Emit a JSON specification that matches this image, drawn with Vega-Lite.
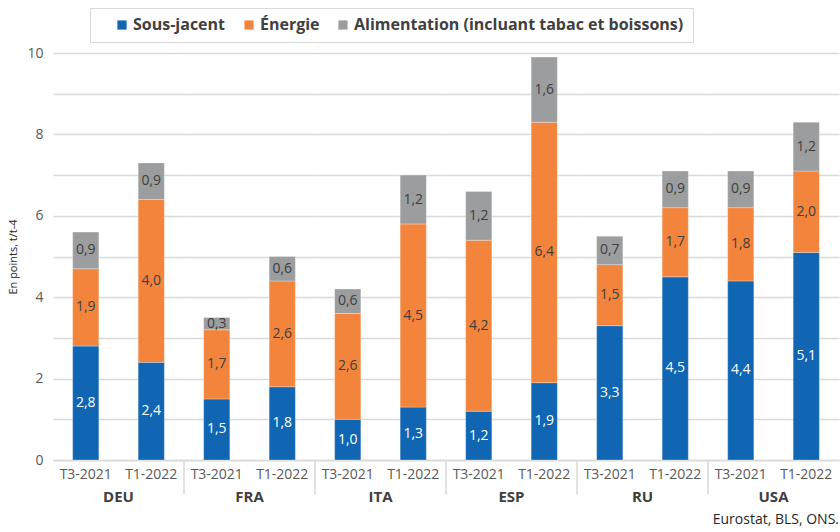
{
  "$schema": "https://vega.github.io/schema/vega-lite/v6.json",
  "background": "white",
  "padding": {"left": 7, "top": 7, "right": 2, "bottom": 2},
  "data": {
    "values": [
      {"country": "DEU", "period": "T3-2021", "component": "Sous-jacent", "k": 1, "value": 2.8},
      {"country": "DEU", "period": "T3-2021", "component": "Énergie", "k": 2, "value": 1.9},
      {"country": "DEU", "period": "T3-2021", "component": "Alimentation (incluant tabac et boissons)", "k": 3, "value": 0.9},
      {"country": "DEU", "period": "T1-2022", "component": "Sous-jacent", "k": 1, "value": 2.4},
      {"country": "DEU", "period": "T1-2022", "component": "Énergie", "k": 2, "value": 4.0},
      {"country": "DEU", "period": "T1-2022", "component": "Alimentation (incluant tabac et boissons)", "k": 3, "value": 0.9},
      {"country": "FRA", "period": "T3-2021", "component": "Sous-jacent", "k": 1, "value": 1.5},
      {"country": "FRA", "period": "T3-2021", "component": "Énergie", "k": 2, "value": 1.7},
      {"country": "FRA", "period": "T3-2021", "component": "Alimentation (incluant tabac et boissons)", "k": 3, "value": 0.3},
      {"country": "FRA", "period": "T1-2022", "component": "Sous-jacent", "k": 1, "value": 1.8},
      {"country": "FRA", "period": "T1-2022", "component": "Énergie", "k": 2, "value": 2.6},
      {"country": "FRA", "period": "T1-2022", "component": "Alimentation (incluant tabac et boissons)", "k": 3, "value": 0.6},
      {"country": "ITA", "period": "T3-2021", "component": "Sous-jacent", "k": 1, "value": 1.0},
      {"country": "ITA", "period": "T3-2021", "component": "Énergie", "k": 2, "value": 2.6},
      {"country": "ITA", "period": "T3-2021", "component": "Alimentation (incluant tabac et boissons)", "k": 3, "value": 0.6},
      {"country": "ITA", "period": "T1-2022", "component": "Sous-jacent", "k": 1, "value": 1.3},
      {"country": "ITA", "period": "T1-2022", "component": "Énergie", "k": 2, "value": 4.5},
      {"country": "ITA", "period": "T1-2022", "component": "Alimentation (incluant tabac et boissons)", "k": 3, "value": 1.2},
      {"country": "ESP", "period": "T3-2021", "component": "Sous-jacent", "k": 1, "value": 1.2},
      {"country": "ESP", "period": "T3-2021", "component": "Énergie", "k": 2, "value": 4.2},
      {"country": "ESP", "period": "T3-2021", "component": "Alimentation (incluant tabac et boissons)", "k": 3, "value": 1.2},
      {"country": "ESP", "period": "T1-2022", "component": "Sous-jacent", "k": 1, "value": 1.9},
      {"country": "ESP", "period": "T1-2022", "component": "Énergie", "k": 2, "value": 6.4},
      {"country": "ESP", "period": "T1-2022", "component": "Alimentation (incluant tabac et boissons)", "k": 3, "value": 1.6},
      {"country": "RU", "period": "T3-2021", "component": "Sous-jacent", "k": 1, "value": 3.3},
      {"country": "RU", "period": "T3-2021", "component": "Énergie", "k": 2, "value": 1.5},
      {"country": "RU", "period": "T3-2021", "component": "Alimentation (incluant tabac et boissons)", "k": 3, "value": 0.7},
      {"country": "RU", "period": "T1-2022", "component": "Sous-jacent", "k": 1, "value": 4.5},
      {"country": "RU", "period": "T1-2022", "component": "Énergie", "k": 2, "value": 1.7},
      {"country": "RU", "period": "T1-2022", "component": "Alimentation (incluant tabac et boissons)", "k": 3, "value": 0.9},
      {"country": "USA", "period": "T3-2021", "component": "Sous-jacent", "k": 1, "value": 4.4},
      {"country": "USA", "period": "T3-2021", "component": "Énergie", "k": 2, "value": 1.8},
      {"country": "USA", "period": "T3-2021", "component": "Alimentation (incluant tabac et boissons)", "k": 3, "value": 0.9},
      {"country": "USA", "period": "T1-2022", "component": "Sous-jacent", "k": 1, "value": 5.1},
      {"country": "USA", "period": "T1-2022", "component": "Énergie", "k": 2, "value": 2.0},
      {"country": "USA", "period": "T1-2022", "component": "Alimentation (incluant tabac et boissons)", "k": 3, "value": 1.2}
    ]
  },
  "title": {
    "text": "Eurostat, BLS, ONS.",
    "orient": "bottom",
    "anchor": "end",
    "font": "Open Sans",
    "fontSize": 14,
    "fontWeight": "normal",
    "color": "#262626",
    "offset": 8
  },
  "spacing": 0,
  "bounds": "flush",
  "facet": {
    "column": {
      "field": "country",
      "type": "nominal",
      "sort": ["DEU", "FRA", "ITA", "ESP", "RU", "USA"],
      "title": null,
      "header": {
        "labelOrient": "bottom",
        "labelFont": "Open Sans",
        "labelFontSize": 15,
        "labelFontWeight": "bold",
        "labelColor": "#404040",
        "labelPadding": 9
      }
    }
  },
  "spec": {
    "width": 131,
    "height": 407,
    "layer": [
      {
        "mark": {"type": "bar", "width": {"band": 0.4}, "stroke": "#ffffff", "strokeWidth": 0.6, "strokeOpacity": 0.5},
        "encoding": {
          "x": {
            "field": "period",
            "type": "nominal",
            "sort": ["T3-2021", "T1-2022"],
            "scale": {"paddingInner": 0, "paddingOuter": 0},
            "axis": {
              "title": null,
              "labelAngle": 0,
              "ticks": false,
              "domainColor": "#d9d9d9",
              "domainWidth": 1.5,
              "labelFont": "Open Sans",
              "labelFontSize": 14,
              "labelColor": "#595959",
              "labelPadding": 7
            }
          },
          "y": {
            "field": "value",
            "type": "quantitative",
            "stack": "zero",
            "scale": {"domain": [0, 10], "nice": false},
            "axis": {
              "title": "En points, t/t-4",
              "titleFont": "Open Sans",
              "titleFontSize": 11,
              "titleFontWeight": "normal",
              "titleColor": "#262626",
              "titlePadding": 8,
              "values": [0, 1, 2, 3, 4, 5, 6, 7, 8, 9, 10],
              "labelExpr": "datum.value % 2 === 0 ? datum.label : ''",
              "labelFont": "Open Sans",
              "labelFontSize": 14,
              "labelColor": "#595959",
              "labelPadding": 10,
              "domain": false,
              "ticks": false,
              "grid": true,
              "gridColor": "#d9d9d9",
              "gridWidth": 1.3
            }
          },
          "color": {
            "field": "component",
            "type": "nominal",
            "scale": {
              "domain": ["Sous-jacent", "Énergie", "Alimentation (incluant tabac et boissons)"],
              "range": ["#1066B2", "#F2843C", "#9B9D9E"]
            },
            "legend": {
              "orient": "none",
              "legendX": 37,
              "legendY": -45,
              "direction": "horizontal",
              "title": "\u00a0",
              "titleOrient": "left",
              "titleFontSize": 8,
              "titlePadding": 15,
              "symbolType": "square",
              "symbolSize": 85,
              "symbolStrokeWidth": 0,
              "labelFont": "Open Sans",
              "labelFontSize": 16,
              "labelFontWeight": "bold",
              "labelColor": "#404040",
              "labelLimit": 500,
              "labelOffset": 3,
              "columnPadding": 15,
              "strokeColor": "#d9d9d9",
              "fillColor": "#ffffff",
              "padding": 9
            }
          },
          "order": {"field": "k", "type": "quantitative"}
        }
      },
      {
        "mark": {"type": "text", "font": "Open Sans", "fontSize": 14, "baseline": "middle"},
        "encoding": {
          "x": {"field": "period", "type": "nominal", "sort": ["T3-2021", "T1-2022"]},
          "y": {"field": "value", "type": "quantitative", "stack": "zero", "bandPosition": 0.5},
          "detail": {"field": "component"},
          "order": {"field": "k", "type": "quantitative"},
          "text": {"field": "value", "type": "quantitative", "format": ".1f"},
          "color": {
            "condition": {"test": "datum.component === 'Sous-jacent'", "value": "#ffffff"},
            "value": "#404040"
          }
        }
      },
      {
        "transform": [{"filter": "datum.country !== 'DEU' && datum.period === 'T3-2021' && datum.k === 1"}],
        "mark": {"type": "rule", "color": "#d9d9d9", "strokeWidth": 1.5},
        "encoding": {
          "x": {"field": "period", "type": "nominal", "sort": ["T3-2021", "T1-2022"], "bandPosition": 0},
          "y": {"datum": -0.85, "type": "quantitative"},
          "y2": {"datum": 0}
        }
      }
    ]
  },
  "config": {
    "view": {"stroke": null},
    "font": "Open Sans",
    "locale": {
      "number": {"decimal": ",", "thousands": "\u00a0", "grouping": [3], "currency": ["", "\u00a0€"]}
    }
  }
}
